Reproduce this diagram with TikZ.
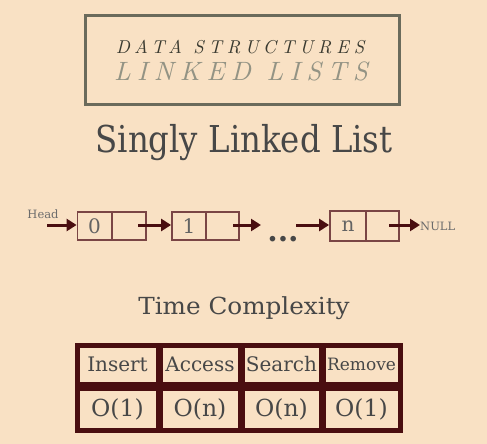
\documentclass[tikz,border=0pt]{standalone}
\usepackage{fontspec}
\usetikzlibrary{arrows.meta}
\newfontfamily\djv{DejaVu Serif}
\newfontfamily\lmtop{lmroman10-italic.otf}[LetterSpace=26]
\newfontfamily\lmbot{lmroman10-italic.otf}[LetterSpace=24]
\definecolor{bg}{HTML}{F9E1C4}
\definecolor{txt}{HTML}{474747}
\definecolor{frame}{HTML}{6B6B5C}
\definecolor{maroon}{HTML}{4A0E10}
\definecolor{cellb}{HTML}{7A4545}
\definecolor{lgray}{HTML}{939384}
\definecolor{dgray}{HTML}{3A3A30}
\begin{document}
\begin{tikzpicture}[x=1pt,y=-1pt,
  lcell/.style={draw=cellb, line width=1.8pt, minimum width=34pt, minimum height=28pt, inner sep=0pt, font=\djv\fontsize{20}{20}\selectfont, text=txt!85},
  ptr/.style={draw=maroon, line width=3pt, -{Triangle[length=10pt,width=12pt]}},
  tcell/.style={draw=maroon, line width=5pt, inner sep=0pt, text=txt, minimum height=39pt},
  vcell/.style={tcell, minimum height=42pt, font=\djv\fontsize{23.5}{24}\selectfont},
  hcell/.style={tcell, font=\djv\fontsize{20}{20}\selectfont},
  small/.style={inner sep=0pt, text=txt!80, font=\djv\fontsize{11.5}{12}\selectfont},
]
\fill[bg] (0,0) rectangle (487,444);
\useasboundingbox (0,0) rectangle (487,444);

% title box
\node[draw=frame, line width=3pt, minimum width=313.5pt, minimum height=88.5pt, inner sep=0pt] (titlebox) at (242.25,59.75) {};
\node[anchor=base, inner sep=0pt, text=dgray] (t1) at (240,53.3)
  {\lmtop\fontsize{18.6}{20}\selectfont DATA STRUCTURES};
\node[anchor=base, inner sep=0pt, text=lgray] (t2) at (241,80.7)
  {\lmbot\fontsize{26.5}{28}\selectfont LINKED LISTS};

% heading
\node[anchor=base, inner sep=0pt, text=txt] (h1) at (244,152)
  {\scalebox{0.875}[1]{\djv\fontsize{37}{38}\selectfont Singly Linked List}};

% linked list
\node[lcell] (v0) at (94.5,226) {0};
\node[lcell] (p0) at (129,226) {};
\node[lcell] (v1) at (189,226) {1};
\node[lcell, minimum width=33pt] (p1) at (222.5,226) {};
\node[lcell, minimum width=36pt, minimum height=30pt] (vn) at (348,226) {n};
\node[lcell, minimum width=33pt, minimum height=30pt] (pn) at (382.5,226) {};

\node[small] (head) at (43,214) {Head};
\node[small, anchor=west] (null) at (420,226.5) {NULL};
\node[anchor=base, inner sep=0pt, text=txt, font=\djv\bfseries\fontsize{30}{30}\selectfont] (dots) at (283,241) {...};

\coordinate (hs) at (47,225);
\coordinate (s0) at (138,225);
\coordinate (s1) at (233,225);
\coordinate (e1) at (261,225);
\coordinate (s2) at (296,225);
\coordinate (s3) at (389,225);
\draw[ptr] (hs) -- (hs -| v0.west);
\draw[ptr] (s0) -- (s0 -| v1.west);
\draw[ptr] (s1) -- (e1);
\draw[ptr] (s2) -- (s2 -| vn.west);
\draw[ptr] (s3) -- (s3 -| null.west);

% time complexity
\node[anchor=base, inner sep=0pt, text=txt] (h2) at (244,314)
  {\scalebox{1.05}[1]{\djv\fontsize{23.5}{25}\selectfont Time Complexity}};

\node[hcell, minimum width=81pt] (c1) at (117.5,364.5) {\raisebox{-2pt}{Insert}};
\node[hcell, minimum width=80pt] (c2) at (200,364.5) {\raisebox{-2pt}{Access}};
\node[hcell, minimum width=79pt] (c3) at (281.5,364.5) {\raisebox{-2pt}{Search}};
\node[hcell, minimum width=77pt, font=\djv\fontsize{17}{17}\selectfont] (c4) at (361.5,364.5) {\raisebox{-2pt}{Remove}};
\node[vcell, minimum width=81pt] (d1) at (117.5,409) {\raisebox{-2pt}{O(1)}};
\node[vcell, minimum width=80pt] (d2) at (200,409) {\raisebox{-2pt}{O(n)}};
\node[vcell, minimum width=79pt] (d3) at (281.5,409) {\raisebox{-2pt}{O(n)}};
\node[vcell, minimum width=77pt] (d4) at (361.5,409) {\raisebox{-2pt}{O(1)}};
\end{tikzpicture}
\end{document}
